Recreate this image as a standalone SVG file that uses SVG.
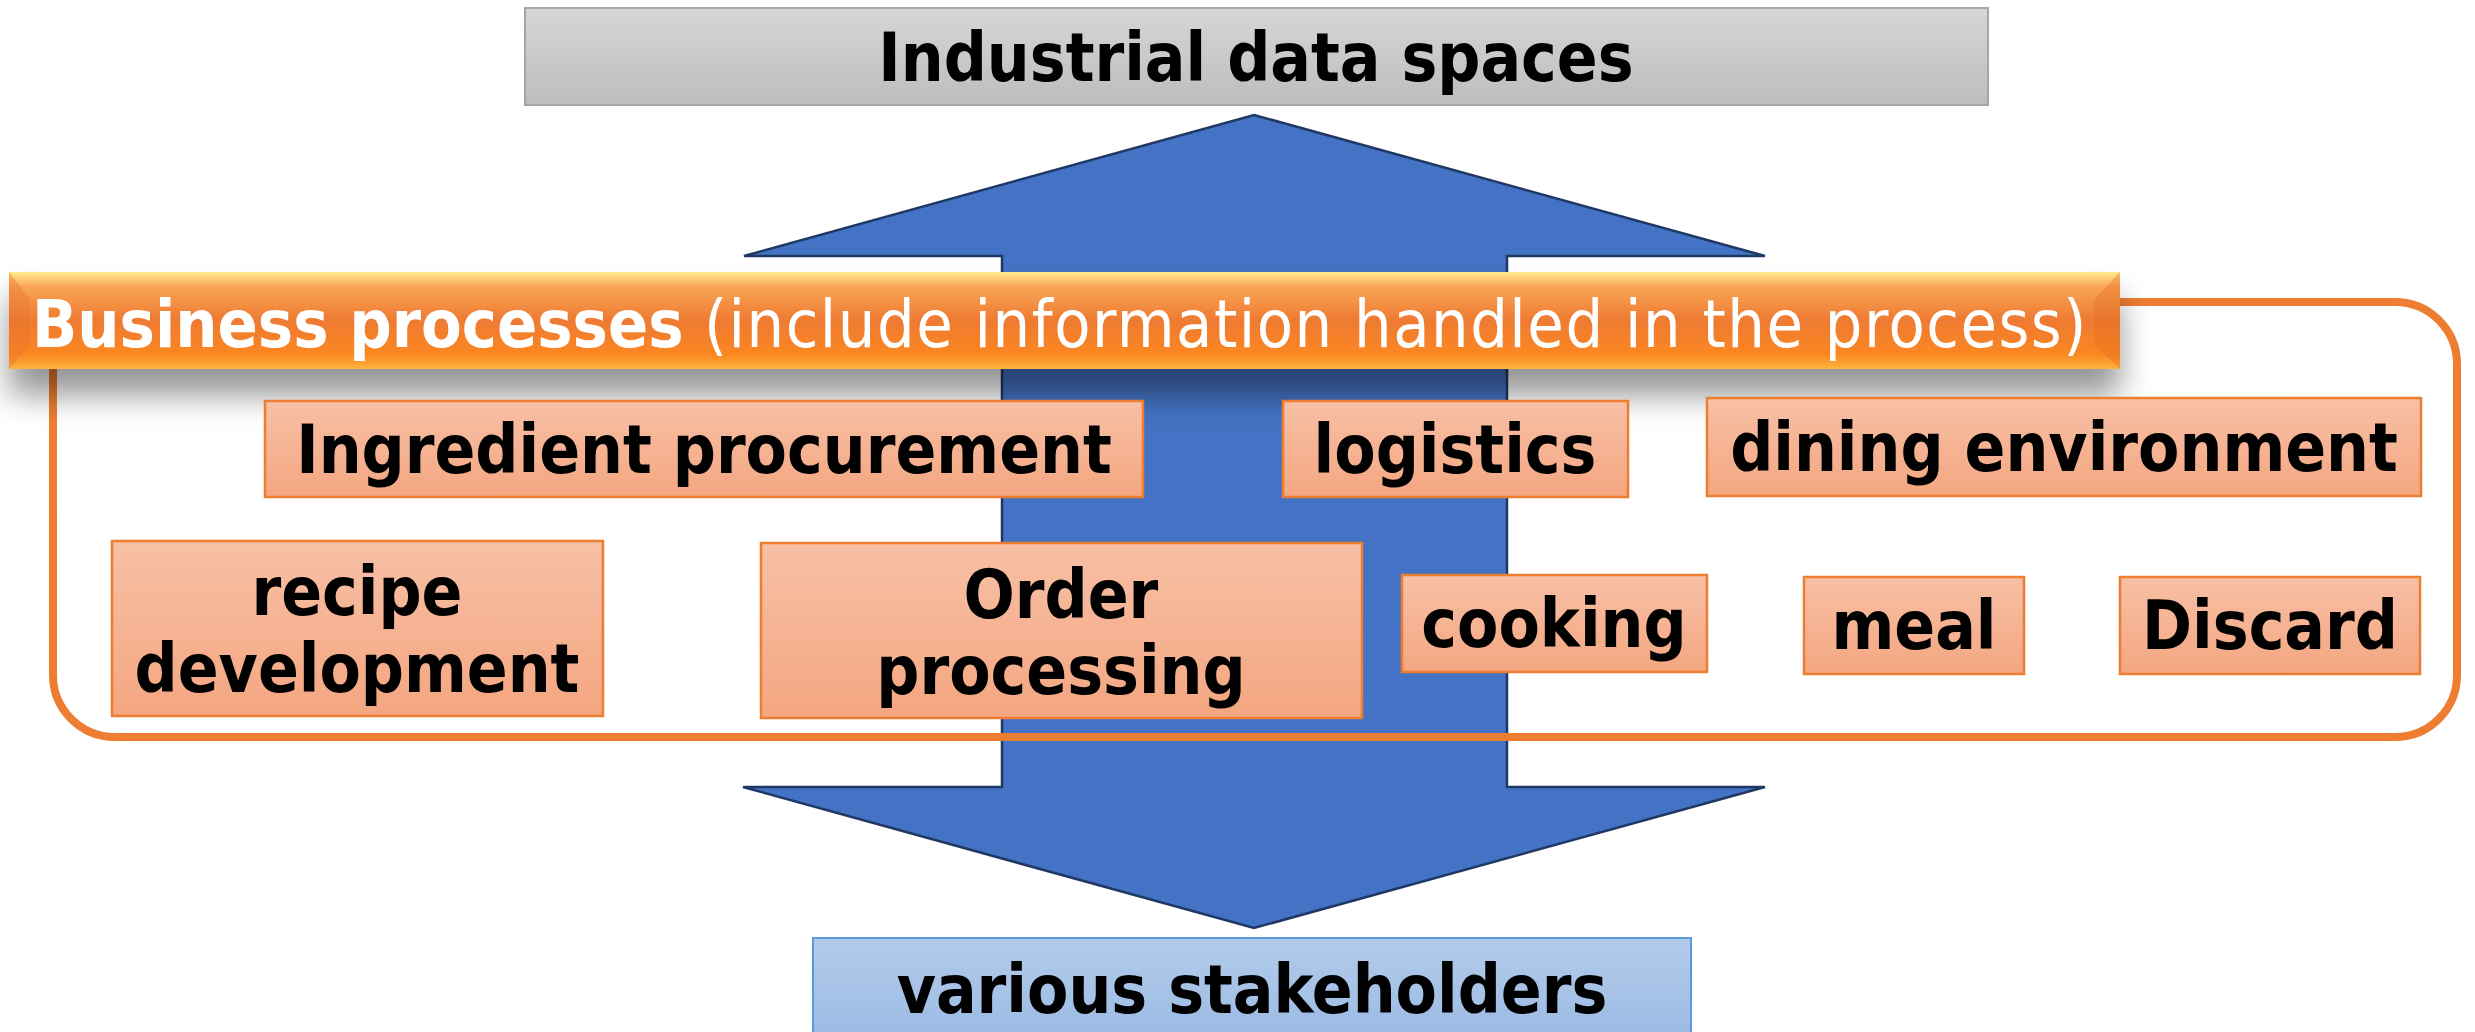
<svg xmlns="http://www.w3.org/2000/svg" width="2475" height="1032" viewBox="0 0 2475 1032">
<defs>
<linearGradient id="gGray" x1="0" y1="0" x2="0" y2="1"><stop offset="0" stop-color="#d6d6d6"/><stop offset="1" stop-color="#bdbdbd"/></linearGradient>
<linearGradient id="gBlue" x1="0" y1="0" x2="0" y2="1"><stop offset="0" stop-color="#b3cbea"/><stop offset="1" stop-color="#9bbbe4"/></linearGradient>
<linearGradient id="gSalmon" x1="0" y1="0" x2="0" y2="1"><stop offset="0" stop-color="#f7c0a6"/><stop offset="1" stop-color="#f4a680"/></linearGradient>
<linearGradient id="gBanner" x1="0" y1="0" x2="0" y2="1">
<stop offset="0" stop-color="#ffeb8f"/><stop offset="0.15" stop-color="#f9a555"/><stop offset="0.5" stop-color="#ee7a32"/><stop offset="0.85" stop-color="#fb8722"/><stop offset="1" stop-color="#ffb43c"/>
</linearGradient>
<filter id="shadow" x="-5%" y="-60%" width="110%" height="280%">
<feGaussianBlur in="SourceAlpha" stdDeviation="16"/>
<feOffset dy="26" result="b"/>
<feComponentTransfer><feFuncA type="linear" slope="0.42"/></feComponentTransfer>
<feMerge><feMergeNode/><feMergeNode in="SourceGraphic"/></feMerge>
</filter>
</defs>
<style>
.node{fill:url(#gSalmon);stroke:#ed7d31;stroke-width:2.5}
.lbl{font-family:"DejaVu Sans Condensed","Liberation Sans",sans-serif;font-weight:bold;font-size:67px;fill:#000;text-anchor:middle}
.arrow{fill:#4472c4;stroke:#1f3864;stroke-width:2.5;stroke-linejoin:miter}
</style>

<g id="connectors">
<polygon class="arrow" points="1254,115 1765,256 1507,256 1507,787 1765,787 1254,928 743,787 1002,787 1002,256 744,256"/>
</g>

<g id="industrial-data-spaces">
<rect x="525" y="8" width="1463" height="97" fill="url(#gGray)" stroke="#a6a6a6" stroke-width="2"/>
<text class="lbl" x="1256" y="81">Industrial data spaces</text>
</g>

<g id="various-stakeholders">
<rect x="813" y="938" width="878" height="100" fill="url(#gBlue)" stroke="#5b9bd5" stroke-width="2"/>
<text class="lbl" x="1252" y="1013">various stakeholders</text>
</g>

<g id="business-processes">
<rect x="53" y="302" width="2404" height="435" rx="62" ry="62" fill="none" stroke="#ed7d31" stroke-width="8"/>
<g filter="url(#shadow)">
<rect x="9" y="272" width="2111" height="97" fill="url(#gBanner)"/>
</g>
<polygon points="9,272 30,300 30,345 9,369" fill="#e8742a" opacity="0.4"/>
<polygon points="2120,272 2094,300 2094,345 2120,369" fill="#e06a20" opacity="0.35"/>
<text x="32" y="347" font-family="DejaVu Sans Condensed, Liberation Sans, sans-serif" font-size="66" fill="#ffffff"><tspan font-weight="bold">Business processes</tspan><tspan letter-spacing="1.5"> (include information handled in the process)</tspan></text>
</g>

<g id="ingredient-procurement">
<rect class="node" x="265" y="401" width="878" height="96"/>
<text class="lbl" x="704" y="473">Ingredient procurement</text>
</g>
<g id="logistics">
<rect class="node" x="1283" y="401" width="345" height="96"/>
<text class="lbl" x="1455" y="473">logistics</text>
</g>
<g id="dining-environment">
<rect class="node" x="1707" y="398" width="714" height="98"/>
<text class="lbl" x="2064" y="471">dining environment</text>
</g>
<g id="recipe-development">
<rect class="node" x="112" y="541" width="491" height="175"/>
<text class="lbl" x="357" y="615">recipe</text>
<text class="lbl" x="357" y="692">development</text>
</g>
<g id="order-processing">
<rect class="node" x="761" y="543" width="601" height="175"/>
<text class="lbl" x="1061" y="618">Order</text>
<text class="lbl" x="1061" y="694">processing</text>
</g>
<g id="cooking">
<rect class="node" x="1402" y="575" width="305" height="97"/>
<text class="lbl" x="1554" y="647">cooking</text>
</g>
<g id="meal">
<rect class="node" x="1804" y="577" width="220" height="97"/>
<text class="lbl" x="1914" y="649">meal</text>
</g>
<g id="discard">
<rect class="node" x="2120" y="577" width="300" height="97"/>
<text class="lbl" x="2270" y="649">Discard</text>
</g>
</svg>
